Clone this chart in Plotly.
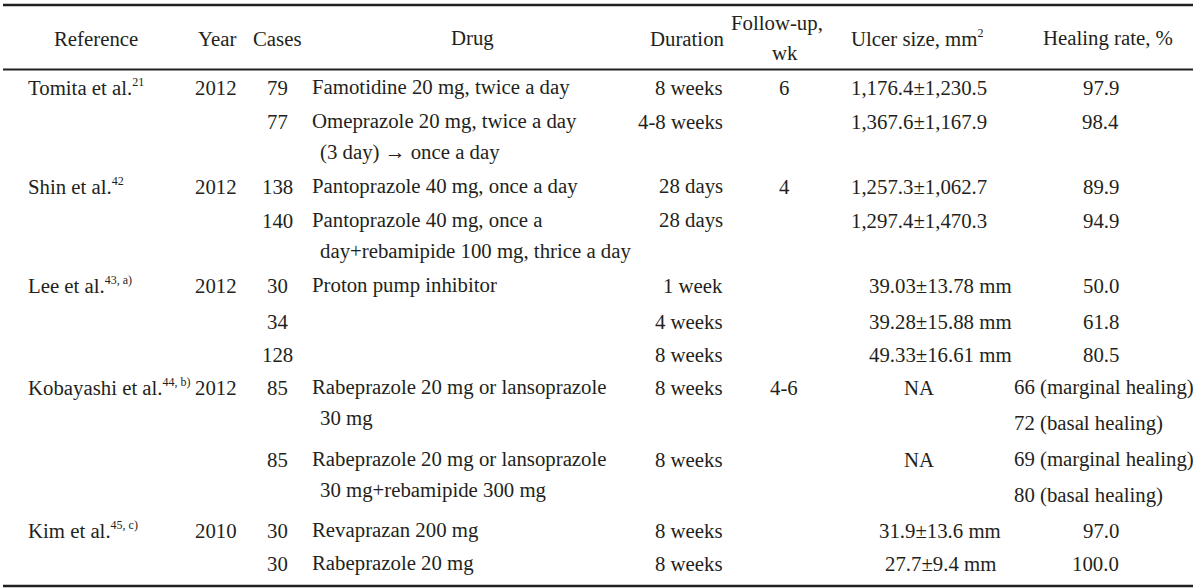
import plotly.graph_objects as go

# ---- table data ----
SUP = "<sup><span style='font-size:12px'>{}</span></sup>"

references = ["Tomita et al." + SUP.format("21"), "", "Shin et al." + SUP.format("42"), "",
              "Lee et al." + SUP.format("43, a)"), "", "",
              "Kobayashi et al." + SUP.format("44, b)"), "",
              "Kim et al." + SUP.format("45, c)"), ""]
years = ["2012", "", "2012", "", "2012", "", "", "2012", "", "2010", ""]
cases = ["79", "77", "138", "140", "30", "34", "128", "85", "85", "30", "30"]
drugs = [
    ["Famotidine 20 mg, twice a day"],
    ["Omeprazole 20 mg, twice a day", "(3 day) \u2192 once a day"],
    ["Pantoprazole 40 mg, once a day"],
    ["Pantoprazole 40 mg, once a", "day+rebamipide 100 mg, thrice a day"],
    ["Proton pump inhibitor"],
    [],
    [],
    ["Rabeprazole 20 mg or lansoprazole", "30 mg"],
    ["Rabeprazole 20 mg or lansoprazole", "30 mg+rebamipide 300 mg"],
    ["Revaprazan 200 mg"],
    ["Rabeprazole 20 mg"],
]
durations = ["8 weeks", "4-8 weeks", "28 days", "28 days", "1 week", "4 weeks",
             "8 weeks", "8 weeks", "8 weeks", "8 weeks", "8 weeks"]
followups = ["6", "", "4", "", "", "", "", "4-6", "", "", ""]
ulcer_sizes = ["1,176.4\u00b11,230.5", "1,367.6\u00b11,167.9", "1,257.3\u00b11,062.7",
               "1,297.4\u00b11,470.3", "39.03\u00b113.78 mm", "39.28\u00b115.88 mm",
               "49.33\u00b116.61 mm", "NA", "NA", "31.9\u00b113.6 mm", "27.7\u00b19.4 mm"]
healing_rates = [["97.9"], ["98.4"], ["89.9"], ["94.9"], ["50.0"], ["61.8"], ["80.5"],
                 ["66 (marginal healing)", "72 (basal healing)"],
                 ["69 (marginal healing)", "80 (basal healing)"],
                 ["97.0"], ["100.0"]]

# ---- layout constants (pixels) ----
W, H = 1200, 588
FONT = dict(family="Liberation Serif, Times New Roman, serif", size=20.8, color="#231f20")
first_line_y = 87
row_heights = [34, 65, 34, 65, 36, 33, 33, 72, 71, 33, 33]
drug_line_step = 31
heal_line_step = 36
header_y = 38
rule_top, rule_mid, rule_bot = 5, 69.5, 586
rule_x0, rule_x1 = 3, 1193

fig = go.Figure()
fig.add_trace(go.Scatter(x=[0, W], y=[0, H], mode="markers",
                         marker=dict(opacity=0), hoverinfo="skip", showlegend=False))

ann = []

def add(text, x, y, anchor):
    if text == "":
        return
    ann.append(dict(text=text, x=x, y=y, xref="x", yref="y", xanchor=anchor,
                    yanchor="middle", showarrow=False, font=FONT))

# headers
add("Reference", 96, header_y, "center")
add("Year", 217, header_y, "center")
add("Cases", 277, header_y, "center")
add("Drug", 472, header_y, "center")
add("Duration", 687, header_y, "center")
add("Follow-up,", 777, 23, "center")
add("wk", 785, 52, "center")
add("Ulcer size, mm" + SUP.format("2"), 917, header_y, "center")
add("Healing rate, %", 1108, header_y, "center")

y0 = first_line_y
for i in range(len(cases)):
    add(references[i], 26, y0, "left")
    add(years[i], 216, y0, "center")
    add(cases[i], 277, y0, "center")
    for k, d in enumerate(drugs[i]):
        add(d, 310 if k == 0 else 318, y0 + k * drug_line_step, "left")
    add(durations[i], 725, y0, "right")
    add(followups[i], 784, y0, "center")
    add(ulcer_sizes[i], 940 if "mm" in ulcer_sizes[i] else 919, y0, "center")
    for k, h in enumerate(healing_rates[i]):
        if len(healing_rates[i]) > 1:
            add(h, 1012, y0 + k * heal_line_step, "left")
        else:
            add(h, 1121, y0, "right")
    y0 += row_heights[i]

shapes = [
    dict(type="line", xref="x", yref="y", x0=rule_x0, x1=rule_x1, y0=rule_top, y1=rule_top,
         line=dict(color="#231f20", width=2.5)),
    dict(type="line", xref="x", yref="y", x0=rule_x0, x1=rule_x1, y0=rule_mid, y1=rule_mid,
         line=dict(color="#231f20", width=1.8)),
    dict(type="line", xref="x", yref="y", x0=rule_x0, x1=rule_x1, y0=rule_bot, y1=rule_bot,
         line=dict(color="#231f20", width=2.5)),
]

fig.update_layout(
    width=W, height=H,
    margin=dict(l=0, r=0, t=0, b=0),
    paper_bgcolor="white", plot_bgcolor="white",
    xaxis=dict(range=[0, W], visible=False, fixedrange=True),
    yaxis=dict(range=[H, 0], visible=False, fixedrange=True),
    annotations=ann, shapes=shapes, showlegend=False,
)

fig.write_html("out.html", config=dict(displayModeBar=False),
               post_script="document.body.style.margin='0px';document.body.style.overflow='hidden';")
